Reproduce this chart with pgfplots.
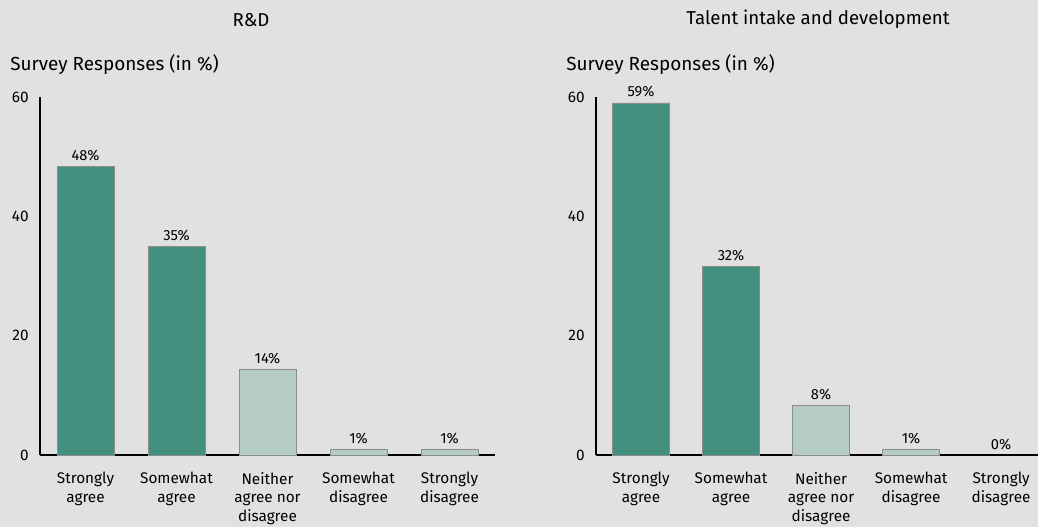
\documentclass[border=0pt]{standalone}
\usepackage{pgfplots}
\pgfplotsset{compat=1.18}
\usepackage{fontspec}
\setmainfont{Fira Sans}
\definecolor{bg}{HTML}{E1E1E1}
\definecolor{dark}{HTML}{43907F}
\definecolor{light}{HTML}{B4CCC4}
\definecolor{edge}{HTML}{8C8C8C}
\pgfplotsset{
  myaxis/.style={
    scale only axis,
    height=268.5pt,
    ymin=0, ymax=60,
    ytick={0,20,40,60},
    axis x line=bottom, axis y line=left,
    axis line style={-, black, line width=0.9pt},
    major tick length=0pt,
    xtick={0,1,2,3,4},
    xticklabels={Strongly\\agree, Somewhat\\agree, Neither\\agree nor\\disagree, Somewhat\\disagree, Strongly\\disagree},
    xticklabel style={align=center, font=\fontsize{11.5}{13.8}\selectfont, yshift=-9.5pt},
    yticklabel style={font=\fontsize{11.5}{13}\selectfont, xshift=-5pt},
    /pgf/number format/assume math mode=true,
    ybar, bar width=42.75pt, bar shift=0pt,
    nodes near coords, point meta=explicit symbolic,
    every node near coord/.append style={font=\fontsize{11}{12}\selectfont, yshift=0.5pt},
    clip=false,
  },
}
\begin{document}
\begin{tikzpicture}
\path[use as bounding box, fill=bg] (0,0) rectangle (778.5pt,395.25pt);
\node[font=\fontsize{14}{16}\selectfont] at (188.25pt,380.5pt) {R\&D};
\node[font=\fontsize{14}{16}\selectfont] at (613.5pt,380.5pt) {Talent intake and development};
\node[anchor=west, inner sep=0pt, font=\fontsize{14.2}{16}\selectfont] at (7.5pt,346.5pt) {Survey Responses (in \%)};
\node[anchor=west, inner sep=0pt, font=\fontsize{14.2}{16}\selectfont] at (424.5pt,346.5pt) {Survey Responses (in \%)};
\begin{axis}[myaxis, at={(30pt,54pt)}, anchor=south west, width=341.25pt, xmin=-0.5, xmax=4.5]
\addplot[fill=dark, draw=edge, line width=0.6pt] coordinates {(0,48.3) [48\%] (1,34.9) [35\%]};
\addplot[fill=light, draw=edge, line width=0.6pt] coordinates {(2,14.4) [14\%] (3,1) [1\%] (4,1) [1\%]};
\end{axis}
\begin{axis}[myaxis, at={(447pt,54pt)}, anchor=south west, width=331.5pt, xmin=-0.5, xmax=4.41]
\addplot[fill=dark, draw=edge, line width=0.6pt] coordinates {(0,59) [59\%] (1,31.6) [32\%]};
\addplot[fill=light, draw=edge, line width=0.6pt] coordinates {(2,8.3) [8\%] (3,1) [1\%]};
\addplot[fill=none, draw=none] coordinates {(4,0) [0\%]};
\end{axis}
\end{tikzpicture}
\end{document}
